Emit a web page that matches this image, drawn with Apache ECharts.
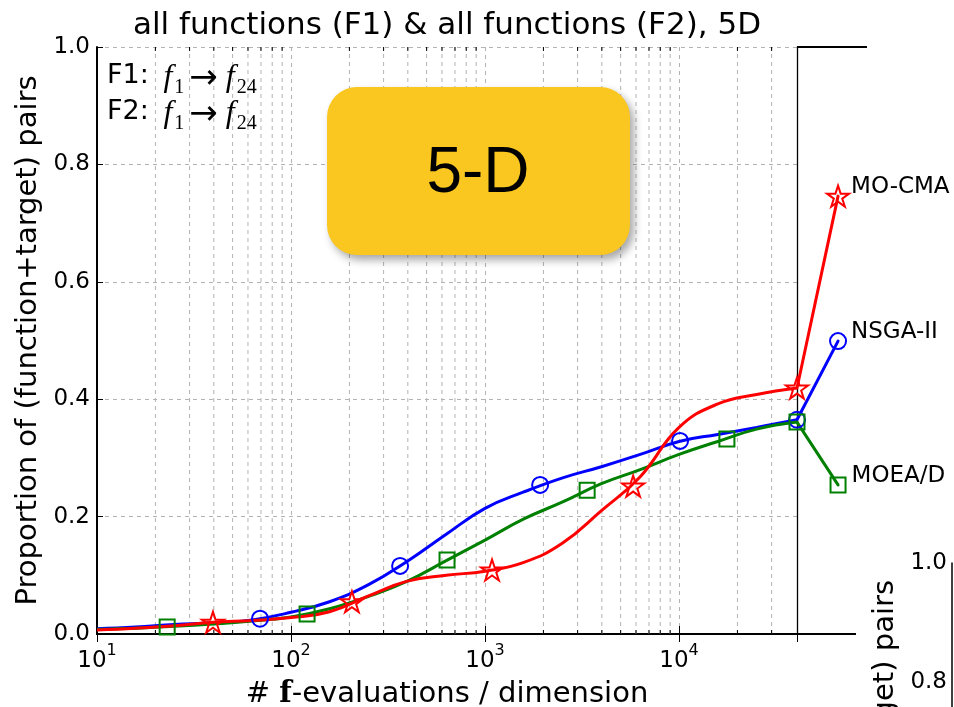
<!DOCTYPE html>
<html>
<head>
<meta charset="utf-8">
<script src="https://cdn.jsdelivr.net/npm/echarts@6/dist/echarts.min.js"></script>
<style>
  html, body { margin: 0; padding: 0; background: #ffffff; }
  #main { width: 954px; height: 707px; }
</style>
</head>
<body>
<div id="main"></div>
<script>
// Evaluation budget (f-evaluations / dimension) and x position of the aggregated final values
const BUDGET = 40550;
const FINAL_X = 66000;

// Axis ticks
const xMajorTicks = [10, 100, 1000, 10000];
const xMinorMultiples = [2, 3, 4, 5, 6, 7, 8, 9];
const yTickStep = 0.2;

// Sample positions of the ECDF curves (f-evaluations / dimension)
const curveX = [10, 15.8, 25.1, 39.8, 63.1, 100, 158, 251, 398, 631, 1000, 1585, 2512, 3981, 6310, 10000, 15849, 25119, BUDGET];

// NSGA-II (blue, circles)
const nsgaCurveY = [0.009, 0.012, 0.016, 0.019, 0.024, 0.037, 0.055, 0.084, 0.124, 0.170, 0.214, 0.242, 0.266, 0.285, 0.306, 0.328, 0.340, 0.352, 0.365];
const nsgaMarkX  = [69.2, 365, 1923, 10120, BUDGET];
const nsgaMarkY  = [0.026, 0.116, 0.254, 0.329, 0.365];
const nsgaFinalY = 0.499;

// MOEA/D (green, squares)
const moeaCurveY = [0.008, 0.010, 0.013, 0.017, 0.022, 0.029, 0.043, 0.064, 0.090, 0.125, 0.160, 0.196, 0.225, 0.256, 0.280, 0.306, 0.328, 0.349, 0.361];
const moeaMarkX  = [23.0, 121, 637, 3360, 17650, BUDGET];
const moeaMarkY  = [0.012, 0.034, 0.126, 0.245, 0.332, 0.361];
const moeaFinalY = 0.254;

// MO-CMA (red, stars)
const mocmaCurveY = [0.007, 0.010, 0.014, 0.020, 0.023, 0.028, 0.038, 0.065, 0.090, 0.100, 0.107, 0.122, 0.155, 0.210, 0.268, 0.352, 0.392, 0.408, 0.419];
const mocmaMarkX  = [39.6, 206, 1087, 5800, BUDGET];
const mocmaMarkY  = [0.020, 0.055, 0.109, 0.252, 0.419];
const mocmaFinalY = 0.746;

const FONT = '"DejaVu Sans", "Liberation Sans", sans-serif';
const STAR = 'path://M100 0 L122.45 69.1 L195.11 69.1 L136.33 111.8 L158.78 180.9 L100 138.2 L41.22 180.9 L63.67 111.8 L4.89 69.1 L77.55 69.1 Z';

const minorTickValues = [];
xMajorTicks.forEach(d => xMinorMultiples.forEach(m => {
  if (m * d < BUDGET * 0.97) minorTickValues.push(m * d);
}));

function algoSeries(name, color, symbol, size, ys, markX, markY, finalY, labelDist) {
  const lastY = ys[ys.length - 1];
  return [
    {
      name: name, type: 'line', xAxisIndex: 0, yAxisIndex: 0,
      data: curveX.map((x, i) => [x, ys[i]]),
      smooth: 0.45, showSymbol: false, symbol: 'none',
      lineStyle: { color: color, width: 3 }, z: 3, silent: true
    },
    {
      // straight segment from the budget value to the final aggregated value
      name: name + ' final', type: 'custom', xAxisIndex: 0, yAxisIndex: 0, clip: false,
      data: [[BUDGET, lastY, FINAL_X, finalY]],
      encode: { x: [0, 2], y: [1, 3] },
      renderItem: function (params, api) {
        const a = api.coord([api.value(0), api.value(1)]);
        const b = api.coord([api.value(2), api.value(3)]);
        return { type: 'line', shape: { x1: a[0], y1: a[1], x2: b[0], y2: b[1] },
                 style: { stroke: color, lineWidth: 3, lineCap: 'round' } };
      },
      z: 3, silent: true
    },
    {
      name: name + ' markers', type: 'scatter', xAxisIndex: 0, yAxisIndex: 0,
      symbol: symbol, symbolSize: size, symbolKeepAspect: true, clip: false,
      itemStyle: { color: 'transparent', borderColor: color, borderWidth: 2, opacity: 1 },
      data: markX.map((x, i) => [x, markY[i]]).concat([{
        value: [FINAL_X, finalY],
        label: {
          show: true, position: 'right', distance: labelDist, offset: [0, -9],
          formatter: name, fontFamily: FONT, fontSize: 23, color: '#000', textBorderWidth: 0
        }
      }]),
      z: 4, silent: true
    }
  ];
}

const annotationRich = {
  t: { fontFamily: FONT, fontSize: 27, color: '#000', lineHeight: 36, verticalAlign: 'top' },
  m: { fontFamily: '"Liberation Serif", serif', fontStyle: 'italic', fontSize: 32, color: '#000', lineHeight: 36, verticalAlign: 'top', padding: [0, 1, 0, 6] },
  a: { fontFamily: FONT, fontSize: 34, color: '#000', lineHeight: 36, verticalAlign: 'top', padding: [0, 2, 0, 5] },
  s: { fontFamily: '"Liberation Serif", serif', fontSize: 20, color: '#000', lineHeight: 20, verticalAlign: 'bottom', padding: [0, 0, 0, 1] }
};

const chart = echarts.init(document.getElementById('main'), null, { width: 954, height: 707 });

const option = {
  animation: false,
  backgroundColor: '#ffffff',
  grid: [
    { left: 97, right: 157, top: 47, bottom: 73, outerBoundsMode: 'none', containLabel: false },
    { left: 952, top: 563, width: 2, height: 595, outerBoundsMode: 'none', containLabel: false }
  ],
  xAxis: [
    {
      type: 'log', logBase: 10, min: 10, max: BUDGET, gridIndex: 0, position: 'bottom',
      axisLine: { show: true, lineStyle: { color: '#000', width: 2 } },
      axisTick: { show: true, inside: true, length: 8, lineStyle: { color: '#000', width: 1 } },
      axisLabel: {
        showMaxLabel: false, margin: 9, color: '#000',
        formatter: function (v) {
          const e = Math.log10(v);
          const r = Math.round(e);
          if (Math.abs(e - r) > 1e-6) return '';
          return '{b|10}{s|' + r + '}';
        },
        rich: {
          b: { fontFamily: FONT, fontSize: 23, color: '#000', lineHeight: 30, verticalAlign: 'bottom' },
          s: { fontFamily: FONT, fontSize: 16, color: '#000', lineHeight: 30, verticalAlign: 'top' }
        }
      },
      splitLine: { show: true, lineStyle: { color: '#b3b3b3', width: 1, type: [4, 4] } },
      name: '# {f|f}-evaluations / dimension',
      nameLocation: 'middle', nameGap: 46,
      nameTextStyle: {
        fontFamily: FONT, fontSize: 29, color: '#000',
        rich: { f: { fontFamily: '"DejaVu Serif", serif', fontWeight: 'bold', fontSize: 29, color: '#000' } }
      }
    },
    {
      type: 'log', logBase: 10, min: 10, max: BUDGET, gridIndex: 0, position: 'top',
      axisLine: { show: true, lineStyle: { color: '#000', width: 2 } },
      axisTick: { show: true, inside: true, length: 8, lineStyle: { color: '#000', width: 1 } },
      axisLabel: { show: false },
      splitLine: { show: false }
    },
    { type: 'value', gridIndex: 1, show: false, min: 0, max: 1 }
  ],
  yAxis: [
    {
      type: 'value', min: 0, max: 1, interval: yTickStep, gridIndex: 0, position: 'left',
      axisLine: { show: true, lineStyle: { color: '#000', width: 2 } },
      axisTick: { show: true, inside: true, length: 6, lineStyle: { color: '#000', width: 1 } },
      axisLabel: { formatter: v => v.toFixed(1), fontFamily: FONT, fontSize: 23, color: '#000', margin: 7 },
      splitLine: { show: true, lineStyle: { color: '#b3b3b3', width: 1, type: [4, 4] } },
      name: 'Proportion of (function+target) pairs',
      nameLocation: 'middle', nameGap: 44,
      nameTextStyle: { fontFamily: FONT, fontSize: 29, color: '#000' }
    },
    {
      type: 'value', min: 0, max: 1, gridIndex: 0, position: 'right',
      axisLine: { show: true, lineStyle: { color: '#000', width: 1.3 } },
      axisTick: { show: false }, axisLabel: { show: false }, splitLine: { show: false }
    },
    {
      type: 'value', min: 0, max: 1, interval: yTickStep, gridIndex: 1, position: 'left',
      axisLine: { show: true, lineStyle: { color: '#000', width: 1.5 } },
      axisTick: { show: false },
      axisLabel: { formatter: v => v.toFixed(1), fontFamily: FONT, fontSize: 23, color: '#000', margin: 5 },
      splitLine: { show: false }
    }
  ],
  series: [
    {
      // minor decade gridlines with their tick marks on the bottom and top spines
      type: 'custom', xAxisIndex: 0, yAxisIndex: 0, silent: true, z: 1,
      data: minorTickValues.map(v => [v, 0]),
      renderItem: function (params, api) {
        const v = api.value(0);
        const b = api.coord([v, 0]);
        const t = api.coord([v, 1]);
        return {
          type: 'group',
          children: [
            { type: 'line', shape: { x1: b[0], y1: b[1], x2: t[0], y2: t[1] },
              style: { stroke: '#b3b3b3', lineWidth: 1, lineDash: [4, 4] } },
            { type: 'line', shape: { x1: b[0], y1: b[1], x2: b[0], y2: b[1] - 4 },
              style: { stroke: '#000', lineWidth: 1 } },
            { type: 'line', shape: { x1: t[0], y1: t[1], x2: t[0], y2: t[1] + 4 },
              style: { stroke: '#000', lineWidth: 1 } }
          ]
        };
      }
    }
  ]
    .concat(algoSeries('NSGA-II', '#0000ff', 'circle', 16, nsgaCurveY, nsgaMarkX, nsgaMarkY, nsgaFinalY, 4))
    .concat(algoSeries('MOEA/D', '#008000', 'rect', 15, moeaCurveY, moeaMarkX, moeaMarkY, moeaFinalY, 5))
    .concat(algoSeries('MO-CMA', '#ff0000', STAR, 22, mocmaCurveY, mocmaMarkX, mocmaMarkY, mocmaFinalY, 1)),
  graphic: [
    {
      type: 'text', x: 447, y: 26, z: 50,
      style: { text: 'all functions (F1) & all functions (F2), 5D', font: '31px ' + FONT, fill: '#000', align: 'center', verticalAlign: 'middle' }
    },
    {
      type: 'line', z: 50, shape: { x1: 797, y1: 47, x2: 867, y2: 47 }, style: { stroke: '#000', lineWidth: 2 }
    },
    {
      type: 'line', z: 50, shape: { x1: 797, y1: 634, x2: 856, y2: 634 }, style: { stroke: '#000', lineWidth: 2 }
    },
    {
      type: 'text', x: 107, y: 80, z: 50,
      style: { text: '{t|F1: }{m|f}{s|1}{a|\u2192}{m|f}{s|24}', align: 'left', verticalAlign: 'middle', rich: annotationRich }
    },
    {
      type: 'text', x: 107, y: 116, z: 50,
      style: { text: '{t|F2: }{m|f}{s|1}{a|\u2192}{m|f}{s|24}', align: 'left', verticalAlign: 'middle', rich: annotationRich }
    },
    {
      type: 'rect', z: 100,
      shape: { x: 327, y: 87, width: 303, height: 168, r: 30 },
      style: { fill: '#f9c71f', shadowBlur: 8, shadowOffsetX: 4, shadowOffsetY: 5, shadowColor: 'rgba(0,0,0,0.35)' }
    },
    {
      type: 'text', x: 478, y: 174, z: 101,
      style: { text: '5-D', font: '64px "Liberation Sans", Arial, sans-serif', fill: '#000', align: 'center', verticalAlign: 'middle' }
    },
    {
      type: 'text', x: 885, y: 580, z: 50, rotation: Math.PI / 2,
      style: { text: 'Proportion of (function+target) pairs', font: '29px ' + FONT, fill: '#000', align: 'right', verticalAlign: 'middle' }
    }
  ]
};

chart.setOption(option);
</script>
</body>
</html>
